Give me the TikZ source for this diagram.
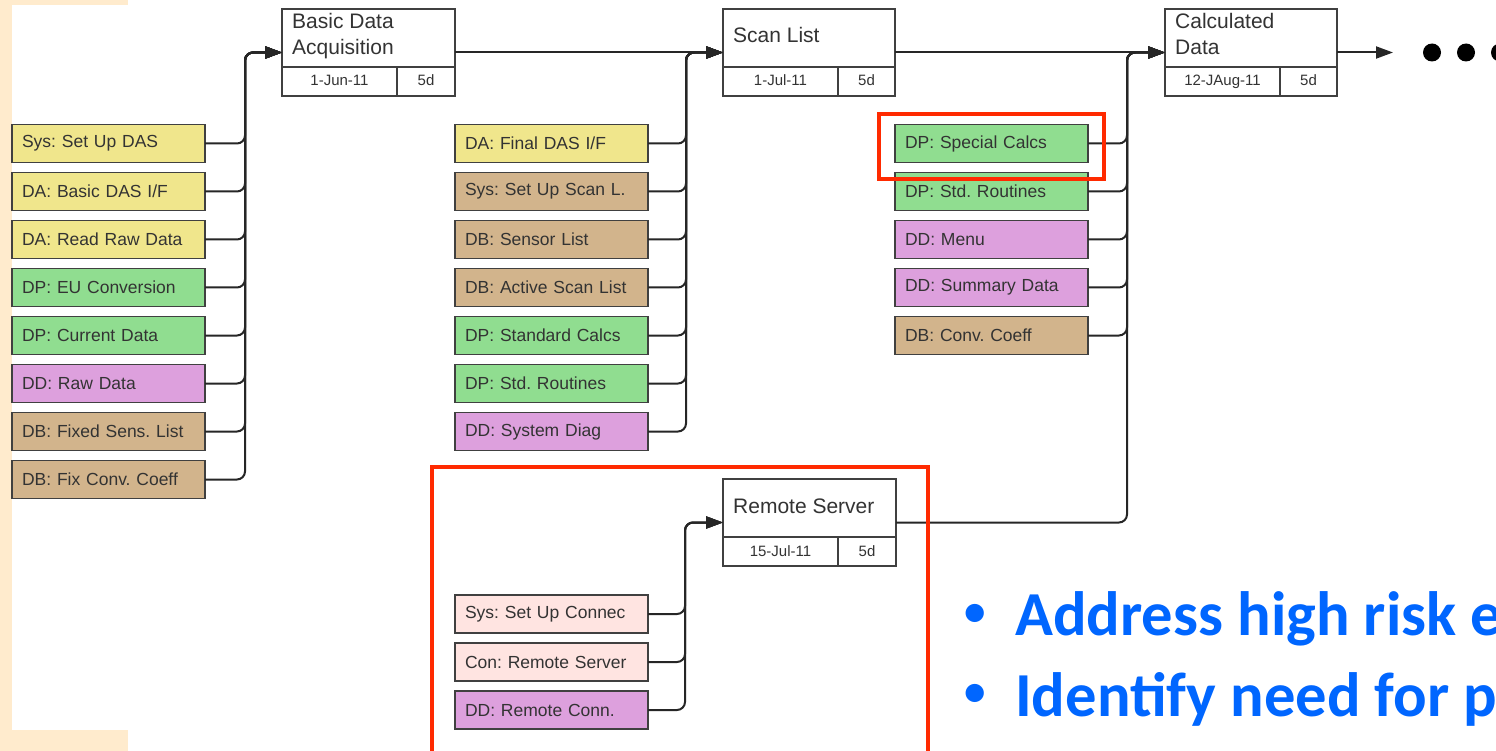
\documentclass[tikz,border=0pt]{standalone}
\usepackage{fontspec}
\setmainfont{Liberation Sans}
\newfontfamily\calib{Carlito}
\usetikzlibrary{arrows.meta}
\definecolor{beige}{HTML}{FFEBCD}
\definecolor{ckhaki}{HTML}{F0E68C}
\definecolor{ctan}{HTML}{D2B48C}
\definecolor{cgreen}{HTML}{90DD90}
\definecolor{cplum}{HTML}{DDA0DD}
\definecolor{crose}{HTML}{FFE4E1}
\definecolor{txt}{HTML}{333333}
\definecolor{redbox}{HTML}{FF2A00}
\definecolor{blueA}{HTML}{0066FF}
\frenchspacing
\begin{document}
\begin{tikzpicture}[x=1pt,y=-1pt,
  task/.style={draw=black!75, line width=1.8pt, minimum height=38pt, text width=173pt,
    inner xsep=10pt, inner ysep=0pt, align=left, font=\fontsize{17.5}{20}\selectfont,
    text=txt, anchor=west, outer sep=0pt},
  ms/.style={draw=black!75, line width=1.8pt, minimum height=87pt, fill=white, outer sep=0pt},
  divl/.style={draw=black!75, line width=1.8pt},
  mstitle/.style={font=\fontsize{21}{26}\selectfont, text=txt, inner sep=0pt, align=left},
  datet/.style={font=\fontsize{15}{18}\selectfont, text=txt, inner sep=0pt, anchor=base},
  conn/.style={draw=black!85, line width=2pt, rounded corners=8pt},
  tip/.style={-{Triangle[length=17pt,width=12pt]}},
  redframe/.style={draw=redbox, line width=3.5pt},
  bul/.style={font=\calib\bfseries\fontsize{62.6}{75}\selectfont, text=blueA, inner sep=0pt},
  bulmark/.style={font=\calib\bfseries\fontsize{43}{50}\selectfont, text=blueA, inner sep=0pt, anchor=base}
]
\useasboundingbox (0,0) rectangle (1496,751);
\clip (0,0) rectangle (1496,751);
\fill[white] (0,0) rectangle (1496,751);
\fill[beige] (0,0) rectangle (128,5);
\fill[beige] (0,0) rectangle (12,751);
\fill[beige] (0,730) rectangle (128,751);

% milestones
\node[ms, minimum width=173pt] (bda) at (368.5,52.5) {};
\node[ms, minimum width=172pt] (scan) at (809,52.5) {};
\node[ms, minimum width=172pt] (calc) at (1251,52.5) {};
\node[ms, minimum width=173pt] (remote) at (809.5,522.5) {};
\foreach \m in {bda,scan,calc,remote}{
  \draw[divl] ([yshift=29pt]\m.south west) -- ([yshift=29pt]\m.south east);
  \draw[divl] ([xshift=115pt,yshift=29pt]\m.south west) -- ([xshift=115pt]\m.south west);
}
\node[mstitle, anchor=north west] (bdat) at (292,13.5) {Basic Data\\Acquisition};
\node[mstitle, anchor=base west] (scant) at (733,43) {Scan List};
\node[mstitle, anchor=north west] (calct) at (1175,13.5) {Calculated\\Data};
\node[mstitle, anchor=base west] (remotet) at (733,513) {Remote Server};
\node[datet] (bdad) at (339.5,86) {1-Jun-11};
\node[datet] (bdan) at (426,86) {5d};
\node[datet] (scand) at (780.5,86) {1-Jul-11};
\node[datet] (scann) at (866.5,86) {5d};
\node[datet] (calcd) at (1222.5,86) {12-JAug-11};
\node[datet] (calcn) at (1308.5,86) {5d};
\node[datet] (remoted) at (780.5,556) {15-Jul-11};
\node[datet] (remoten) at (867,556) {5d};

% column 1
\node[task, fill=ckhaki] (a1) at (12,143.5) {Sys: Set Up DAS};
\node[task, fill=ckhaki] (a2) at (12,191.5) {DA: Basic DAS I/F};
\node[task, fill=ckhaki] (a3) at (12,239.5) {DA: Read Raw Data};
\node[task, fill=cgreen] (a4) at (12,287.5) {DP: EU Conversion};
\node[task, fill=cgreen] (a5) at (12,335.5) {DP: Current Data};
\node[task, fill=cplum] (a6) at (12,383.5) {DD: Raw Data};
\node[task, fill=ctan] (a7) at (12,431.5) {DB: Fixed Sens. List};
\node[task, fill=ctan] (a8) at (12,479.5) {DB: Fix Conv. Coeff};
% column 2
\node[task, fill=ckhaki] (b1) at (455,143.5) {DA: Final DAS I/F};
\node[task, fill=ctan] (b2) at (455,191.5) {Sys: Set Up Scan L.};
\node[task, fill=ctan] (b3) at (455,239.5) {DB: Sensor List};
\node[task, fill=ctan] (b4) at (455,287.5) {DB: Active Scan List};
\node[task, fill=cgreen] (b5) at (455,335.5) {DP: Standard Calcs};
\node[task, fill=cgreen] (b6) at (455,383.5) {DP: Std. Routines};
\node[task, fill=cplum] (b7) at (455,431.5) {DD: System Diag};
% column 3
\node[task, fill=cgreen] (c1) at (895,143.5) {DP: Special Calcs};
\node[task, fill=cgreen] (c2) at (895,191.5) {DP: Std. Routines};
\node[task, fill=cplum] (c3) at (895,239.5) {DD: Menu};
\node[task, fill=cplum] (c4) at (895,287.5) {DD: Summary Data};
\node[task, fill=ctan] (c5) at (895,335.5) {DB: Conv. Coeff};
% remote column
\node[task, fill=crose] (r1) at (455,614) {Sys: Set Up Connec};
\node[task, fill=crose] (r2) at (455,662) {Con: Remote Server};
\node[task, fill=cplum] (r3) at (455,710) {DD: Remote Conn.};

% junctions
\coordinate (j1) at (245,52.5);
\coordinate (j2) at (686,52.5);
\coordinate (j3) at (1127,52.5);
\coordinate (j4) at (685,522.5);
\coordinate (endc) at (1393,52.5);

\foreach \i in {1,...,8} \draw[conn, tip] (a\i.east) -| (j1) -- (bda.west);
\draw[conn, tip] (bda.east) -- (scan.west);
\foreach \i in {1,...,7} \draw[conn, tip] (b\i.east) -| (j2) -- (scan.west);
\draw[conn, tip] (scan.east) -- (calc.west);
\foreach \i in {1,...,5} \draw[conn, tip] (c\i.east) -| (j3) -- (calc.west);
\draw[conn, tip] (remote.east) -| (j3) -- (calc.west);
\foreach \i in {1,2,3} \draw[conn, tip] (r\i.east) -| (j4) -- (remote.west);
\draw[conn, tip] (calc.east) -- (endc);

\fill[black] (1432,52.5) circle (9pt);
\fill[black] (1466,52.5) circle (9pt);
\fill[black] (1500,52.5) circle (9pt);

% red frames
\draw[redframe] (879,114) rectangle (1104,179);
\draw[redframe] (432,467) rectangle (928,770);

% bullets
\node[bulmark] (d1) at (975,625) {•};
\node[bul, anchor=base west] (l1) at (1015,635) {Address high risk e};
\node[bulmark] (d2) at (975,705) {•};
\node[bul, anchor=base west] (l2) at (1015,716) {Identify need for p};
\end{tikzpicture}
\end{document}
